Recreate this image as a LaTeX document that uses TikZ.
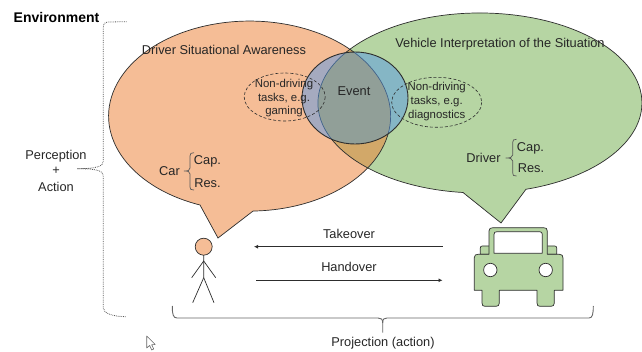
\documentclass[tikz,border=0pt]{standalone}
\usepackage{fontspec}
\setmainfont{Liberation Sans}
\usetikzlibrary{arrows.meta}
\definecolor{orangefill}{RGB}{245,189,150}
\definecolor{greenfill}{RGB}{182,213,163}
\definecolor{overlapfill}{RGB}{210,168,105}
\definecolor{undereventfill}{RGB}{206,168,72}
\definecolor{eventfill}{RGB}{86,152,232}
\definecolor{ink}{RGB}{45,45,45}
\tikzset{
  x=1pt,y=-1pt,
  lbl/.style={font=\fontsize{12.8}{14}\selectfont,text=black!85,inner sep=0pt,align=center},
  small/.style={font=\fontsize{11.4}{13.4}\selectfont,text=black!85,inner sep=0pt,align=center},
  outline/.style={draw=ink,line width=0.7pt},
  dotbrace/.style={draw=black!65,line width=0.8pt,densely dotted},
  solidbrace/.style={draw=black!60,line width=0.9pt},
  smallbrace/.style={draw=black!65,line width=0.7pt},
  arrowline/.style={draw=ink,line width=0.8pt,-{Latex[length=4pt,width=4pt]}},
}
\newcommand{\orangepath}{(218,238) -- (200,205) arc[start angle=249.4,end angle=-88.6,x radius=141,y radius=-95] -- cycle}
\newcommand{\greenpath}{(501,223) -- (463,192.5) arc[start angle=264,end angle=-73.5,x radius=162,y radius=-90] -- cycle}
\begin{document}
\begin{tikzpicture}
\useasboundingbox (0,0) rectangle (642,352);
% bubbles
\fill[orangefill] \orangepath;
\fill[greenfill] \greenpath;
\begin{scope}
  \clip (249.5,116) ellipse[x radius=141,y radius=95];
  \fill[overlapfill] (480,103) ellipse[x radius=162,y radius=90];
  \clip (355,98) ellipse[x radius=53,y radius=46];
  \fill[undereventfill] (480,103) ellipse[x radius=162,y radius=90];
\end{scope}
\draw[outline] \orangepath;
\draw[outline] \greenpath;
% event
\path[fill=eventfill,fill opacity=0.5,draw=ink,line width=0.9pt] (355,98) ellipse[x radius=53,y radius=46];
% dashed ellipses
\draw[draw=ink,line width=0.6pt,densely dashed] (284.7,97) ellipse[x radius=40.5,y radius=24];
\draw[draw=ink,line width=0.6pt,densely dashed] (436.7,102.3) ellipse[x radius=45,y radius=25];
% texts
\node[font=\bfseries\fontsize{14}{16}\selectfont,inner sep=0pt] (env) at (56.5,17.5) {Environment};
\node[lbl] (dsa) at (224,49.5) {Driver Situational Awareness};
\node[lbl] (vis) at (500,44.5) {Vehicle Interpretation of the Situation};
\node[lbl] (ev) at (354,91) {Event};
\node[small] (g1) at (284,85) {Non-driving};
\node[small] (g2) at (284,98.5) {tasks, e.g.};
\node[small] (g3) at (284,112) {gaming};
\node[small] (d1) at (436.7,88) {Non-driving};
\node[small] (d2) at (436.7,102) {tasks, e.g.};
\node[small] (d3) at (436.7,115.5) {diagnostics};
\node[lbl] (perc) at (56,156) {Perception};
\node[lbl] (plus) at (56,171) {+};
\node[lbl] (act) at (56,187) {Action};
\node[lbl] (car) at (169.5,171) {Car};
\node[lbl] (c1) at (207.5,161) {Cap.};
\node[lbl] (c2) at (207.5,183) {Res.};
\node[lbl] (drv) at (483.5,157.5) {Driver};
\node[lbl] (c3) at (530.5,148) {Cap.};
\node[lbl] (c4) at (531,168.5) {Res.};
\node[lbl] (tk) at (349,234) {Takeover};
\node[lbl] (hd) at (349,267) {Handover};
\node[lbl] (prj) at (383,343) {Projection (action)};
% braces
\draw[dotbrace] (126.7,21.7) -- (108,22) .. controls (104,22.5) and (103.3,24) .. (103.3,28) -- (103.3,161) .. controls (103.3,166) and (98,168.7) .. (77,168.7) .. controls (98,168.7) and (103.3,171) .. (103.3,176) -- (103.3,308) .. controls (103.3,313) and (112,316.7) .. (126.7,316.7);
\draw[solidbrace] (172.3,306) .. controls (172.3,314) and (173,318) .. (177,318) -- (378,318) .. controls (381,318) and (382.7,319) .. (382.7,323) -- (382.7,332.7);
\draw[solidbrace] (382.7,323) .. controls (382.7,319) and (384,318) .. (387,318) -- (589,318) .. controls (592.5,318) and (593.3,314) .. (593.3,306);
\draw[smallbrace] (194,152.7) .. controls (191,152.7) and (190,153.5) .. (190,156) -- (190,168) .. controls (190,170.5) and (188,171) .. (184,171) .. controls (188,171) and (190,171.5) .. (190,174) -- (190,187) .. controls (190,189.5) and (191,190) .. (194,190);
\draw[smallbrace] (516.5,139.3) .. controls (513.5,139.3) and (512.7,140) .. (512.7,142.5) -- (512.7,155) .. controls (512.7,157.5) and (510,158) .. (505.7,158) .. controls (510,158) and (512.7,158.5) .. (512.7,161) -- (512.7,173) .. controls (512.7,175.5) and (513.5,176) .. (516.5,176);
% arrows
\coordinate (ta) at (442.5,246.7);
\coordinate (tb) at (254,246.7);
\coordinate (ha) at (256,280.3);
\coordinate (hb) at (442.5,280.3);
\draw[arrowline] (ta) -- (tb);
\draw[arrowline] (ha) -- (hb);
% person
\draw[outline,fill=orangefill] (203.7,246.7) circle[radius=8.5];
\draw[outline] (203.7,255.2) -- (203.7,277.7) -- (192.7,302.7);
\draw[outline] (203.7,277.7) -- (214,302.7);
\draw[outline] (191.7,277.7) -- (203.7,261) -- (215.7,277.7);
% car
\draw[outline,fill=greenfill] (489,254.3) -- (480.3,254.3) -- (480.3,248) .. controls (480.3,246.5) and (481,246) .. (482.5,246) -- (489,246);
\draw[outline,fill=greenfill] (547.3,254.3) -- (556.7,254.3) -- (556.7,248) .. controls (556.7,246.5) and (556,246) .. (554.5,246) -- (547.3,246);
\draw[outline,fill=greenfill,line join=round]
  (474.3,290.3) -- (474.3,257.5) .. controls (474.3,255) and (476,254.3) .. (478,254.3) -- (489,254.3) -- (489,231)
  .. controls (489,228.5) and (490.5,227.7) .. (493,227.7) -- (543.5,227.7) .. controls (546,227.7) and (547.3,228.5) .. (547.3,231)
  -- (547.3,254.3) -- (559.5,254.3) .. controls (562,254.3) and (563,255.5) .. (563,258) -- (563,290.3) -- (554.3,290.3) -- (554.3,303)
  .. controls (554.3,305.5) and (553,306.3) .. (551,306.3) -- (540,306.3) .. controls (538,306.3) and (537,305.5) .. (537,303) -- (537,290.3)
  -- (499.3,290.3) -- (499.3,303) .. controls (499.3,305.5) and (498,306.3) .. (496,306.3) -- (485,306.3) .. controls (483,306.3) and (482,305.5) .. (482,303) -- (482,290.3) -- cycle;
\draw[outline,fill=white,line join=round] (494,253.3) -- (494,234.5) .. controls (494,232.5) and (495,231.7) .. (497,231.7) -- (539.5,231.7) .. controls (541.5,231.7) and (542.3,232.5) .. (542.3,234.5) -- (542.3,253.3) -- cycle;
\draw[outline,fill=white] (490.3,270) circle[radius=6.7];
\draw[outline,fill=white] (545.7,270) circle[radius=6.7];
% cursor
\draw[draw=black!60,line width=0.6pt,fill=white,line join=round] (146.7,336) -- (146.7,348) -- (149.7,345.5) -- (151.7,350) -- (153.7,349) -- (151.7,344.8) -- (155.2,344.5) -- cycle;
\end{tikzpicture}
\end{document}
